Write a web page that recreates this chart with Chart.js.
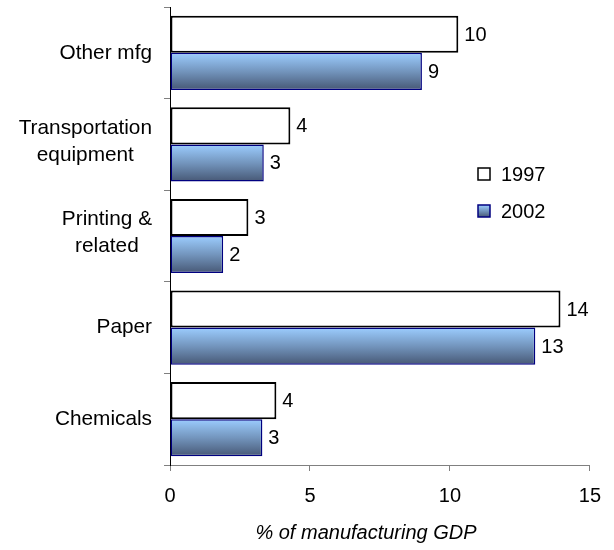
<!DOCTYPE html>
<html>
<head>
<meta charset="utf-8">
<script src="https://cdn.jsdelivr.net/npm/chart.js@4.4.0/dist/chart.umd.min.js"></script>
<style>
  html, body { margin: 0; padding: 0; background: #fff; }
  #wrap { width: 614px; height: 550px; }
</style>
</head>
<body>
<div id="wrap"><canvas id="gdpChart" width="614" height="550"></canvas></div>
<script>
// categories, top to bottom
const categories = [['Other mfg'], ['Transportation', 'equipment'], ['Printing &', 'related'], ['Paper'], ['Chemicals']];
const values1997 = [10.3, 4.3, 2.8, 13.95, 3.8];
const values2002 = [9.0, 3.35, 1.9, 13.05, 3.3];
const seriesNames = ['1997', '2002'];
const xTicks = [0, 5, 10, 15];
const axisTitle = '% of manufacturing GDP';

const FONT = '"Liberation Sans", Arial, sans-serif';
Chart.defaults.font.family = FONT;
Chart.defaults.font.size = 20;
Chart.defaults.color = '#000';

function blueGradient(ctx, top, bottom) {
    const g = ctx.createLinearGradient(0, top, 0, bottom);
    g.addColorStop(0, '#9ccdff');
    g.addColorStop(0.5, '#7395bd');
    g.addColorStop(1, '#475875');
    return g;
}

// labels, legend and axis title drawn on top
const decorations = {
    id: 'decorations',
    afterDatasetsDraw(chart) {
        const ctx = chart.ctx;
        ctx.save();
        ctx.font = '20px ' + FONT;
        ctx.fillStyle = '#000';
        ctx.textAlign = 'left';
        ctx.textBaseline = 'middle';
        chart.data.datasets.forEach((ds, di) => {
            chart.getDatasetMeta(di).data.forEach((bar, i) => {
                ctx.fillText(String(Math.round(ds.data[i])), bar.x + 6, bar.y + 1);
            });
        });
        ctx.restore();
    },
    afterDraw(chart) {
        const ctx = chart.ctx;
        const yScale = chart.scales.y;
        ctx.save();
        ctx.font = '20.8px ' + FONT;
        ctx.fillStyle = '#000';
        ctx.textBaseline = 'middle';
        ctx.textAlign = 'center';

        // category labels: block right-aligned, lines centred
        chart.data.labels.forEach((lines, i) => {
            const cy = yScale.getPixelForTick(i) - (lines.length > 1 ? 3 : 0);
            const widest = Math.max(...lines.map(l => ctx.measureText(l).width));
            const cx = 152 - widest / 2;
            lines.forEach((l, j) => {
                ctx.fillText(l, cx, cy + (j - (lines.length - 1) / 2) * 27);
            });
        });

        // legend
        ctx.font = '20px ' + FONT;
        ctx.textAlign = 'left';
        chart.data.datasets.forEach((ds, di) => {
            const top = 168 + di * 37;
            ctx.fillStyle = di === 0 ? '#fff' : blueGradient(ctx, top, top + 12);
            ctx.fillRect(478, top, 12, 12);
            ctx.lineWidth = 1.5;
            ctx.strokeStyle = ds.borderColor;
            ctx.strokeRect(478, top, 12, 12);
            ctx.fillStyle = '#000';
            ctx.fillText(ds.label, 501, top + 7);
        });

        // axis title
        ctx.font = 'italic 20px ' + FONT;
        ctx.textAlign = 'center';
        ctx.fillText(axisTitle, 366, 533);
        ctx.restore();
    }
};

const ctx = document.getElementById('gdpChart').getContext('2d');
const chart = new Chart(ctx, {
    type: 'bar',
    data: {
        labels: categories,
        datasets: [{
            label: seriesNames[0],
            data: values1997,
            backgroundColor: '#fff',
            borderColor: '#000',
            borderWidth: 2,
            borderSkipped: false
        }, {
            label: seriesNames[1],
            data: values2002,
            backgroundColor(c) {
                const el = c.element;
                if (!el || el.y === undefined || !el.height) return '#7395bd';
                const h = el.height / 2;
                return blueGradient(c.chart.ctx, el.y - h, el.y + h);
            },
            borderColor: '#000080',
            borderWidth: 1.5,
            borderSkipped: false
        }]
    },
    options: {
        indexAxis: 'y',
        responsive: false,
        animation: false,
        events: [],
        layout: { padding: { top: 7, right: 22, left: 0, bottom: 0 } },
        datasets: { bar: { categoryPercentage: 0.81, barPercentage: 1 } },
        plugins: { legend: { display: false }, tooltip: { enabled: false } },
        scales: {
            x: {
                min: xTicks[0],
                max: xTicks[xTicks.length - 1],
                afterBuildTicks(scale) { scale.ticks = xTicks.map(v => ({ value: v })); },
                afterFit(scale) { scale.height = 85; },
                ticks: { padding: 13, font: { size: 20 }, color: '#000' },
                grid: { drawOnChartArea: false, color: '#808080', tickLength: 6 },
                border: { color: '#808080', width: 1 }
            },
            y: {
                afterFit(scale) { scale.width = 170; },
                ticks: { display: false },
                grid: { drawOnChartArea: false, color: '#808080', tickLength: 6, offset: true },
                border: { color: '#000', width: 1 }
            }
        }
    },
    plugins: [decorations]
});
// second pass so the gradient can use the bar positions
chart.update();
</script>
</body>
</html>
